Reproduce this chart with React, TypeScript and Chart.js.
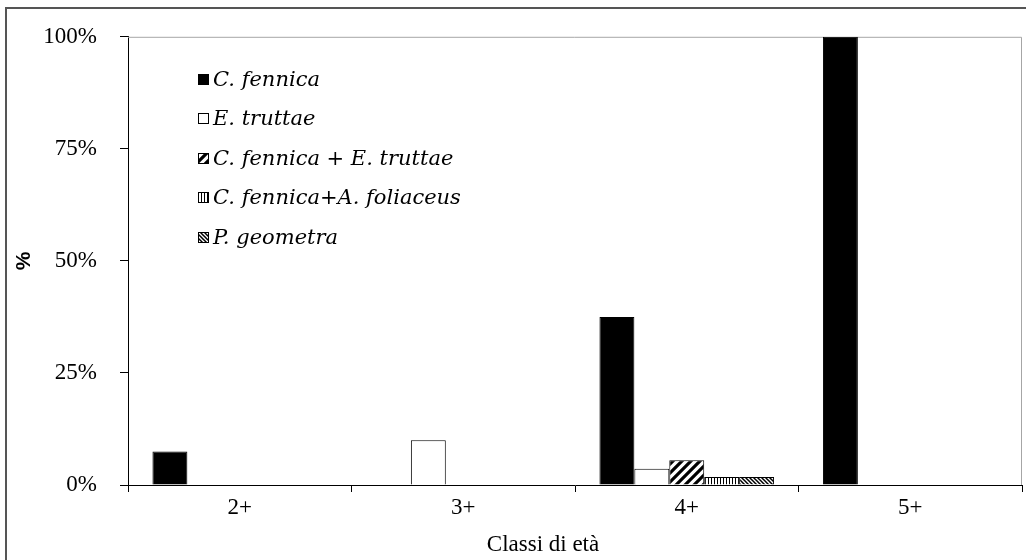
import React, { useEffect, useRef } from "react";
import { Chart, registerables } from "chart.js";

Chart.register(...registerables);

const categories = ["2+", "3+", "4+", "5+"];
const seriesNames = [
  "C. fennica",
  "E. truttae",
  "C. fennica + E. truttae",
  "C. fennica+A. foliaceus",
  "P. geometra",
];
const cFennica = [7.5, 0, 37.5, 100];
const eTruttae = [0, 10, 3.6, 0];
const cFennicaETruttae = [0, 0, 5.5, 0];
const cFennicaAFoliaceus = [0, 0, 1.8, 0];
const pGeometra = [0, 0, 1.8, 0];
const yTicks = [0, 25, 50, 75, 100];
const xTitle = "Classi di età";
const yTitle = "%";

const SERIF = "'Liberation Serif', 'Times New Roman', serif";
const LEGEND_FONT = "'DejaVu Serif', serif";

function makePattern(kind: string): CanvasPattern | string {
  const c = document.createElement("canvas");
  const ctx = c.getContext("2d")!;
  if (kind === "fwd") {
    const p = 9;
    c.width = p; c.height = p;
    ctx.fillStyle = "#fff"; ctx.fillRect(0, 0, p, p);
    ctx.strokeStyle = "#000"; ctx.lineWidth = 3.2;
    ctx.beginPath();
    ctx.moveTo(-1, p + 1); ctx.lineTo(p + 1, -1);
    ctx.moveTo(-2, 2); ctx.lineTo(2, -2);
    ctx.moveTo(p - 2, p + 2); ctx.lineTo(p + 2, p - 2);
    ctx.stroke();
  } else if (kind === "vert") {
    c.width = 3; c.height = 3;
    ctx.fillStyle = "#fff"; ctx.fillRect(0, 0, 3, 3);
    ctx.fillStyle = "#000"; ctx.fillRect(0, 0, 1, 3);
  } else if (kind === "back") {
    const p = 4;
    c.width = p; c.height = p;
    ctx.fillStyle = "#fff"; ctx.fillRect(0, 0, p, p);
    ctx.strokeStyle = "#000"; ctx.lineWidth = 1.5;
    ctx.beginPath();
    ctx.moveTo(-1, -1); ctx.lineTo(p + 1, p + 1);
    ctx.moveTo(p - 1, -1); ctx.lineTo(p + 1, 1);
    ctx.moveTo(-1, p - 1); ctx.lineTo(1, p + 1);
    ctx.stroke();
  }
  const pat = ctx.createPattern(c, "repeat");
  return pat || "#888";
}

const frameAndLegend = {
  id: "frameAndLegend",
  beforeDatasetsDraw(chart: any) {
    const { ctx, chartArea: a } = chart;
    ctx.save();
    ctx.strokeStyle = "#a6a6a6";
    ctx.lineWidth = 1;
    ctx.beginPath();
    ctx.moveTo(a.left, a.top + 0.5);
    ctx.lineTo(a.right - 0.5, a.top + 0.5);
    ctx.lineTo(a.right - 0.5, a.bottom);
    ctx.stroke();
    ctx.restore();
  },
  afterDraw(chart: any) {
    const { ctx, chartArea: a } = chart;
    ctx.save();
    // legend
    const x0 = a.left + 70;
    const y0 = a.top + 43;
    const step = 39.5;
    chart.data.datasets.forEach((ds: any, i: number) => {
      const cy = Math.round(y0 + i * step);
      ctx.fillStyle = ds.backgroundColor;
      ctx.fillRect(x0, cy - 6, 11, 11);
      ctx.strokeStyle = "#000";
      ctx.lineWidth = 1;
      ctx.strokeRect(x0 + 0.5, cy - 5.5, 10, 10);
      ctx.fillStyle = "#000";
      ctx.font = "italic 21px " + LEGEND_FONT;
      ctx.textBaseline = "middle";
      ctx.textAlign = "left";
      ctx.fillText(ds.label, x0 + 15, cy + 1);
    });
    // x axis title
    ctx.font = "23px " + SERIF;
    ctx.textAlign = "center";
    ctx.textBaseline = "middle";
    ctx.fillStyle = "#000";
    ctx.fillText(xTitle, (a.left + a.right) / 2 - 32, chart.height - 15);
    ctx.restore();
  },
};

export default function App() {
  const ref = useRef<HTMLCanvasElement>(null);
  useEffect(() => {
    if (!ref.current) return;
    const fills = [
      "#000000",
      "#ffffff",
      makePattern("fwd"),
      makePattern("vert"),
      makePattern("back"),
    ];
    const values = [cFennica, eTruttae, cFennicaETruttae, cFennicaAFoliaceus, pGeometra];
    const chart = new Chart(ref.current, {
      type: "bar",
      data: {
        labels: categories,
        datasets: values.map((v, i) => ({
          label: seriesNames[i],
          data: v,
          backgroundColor: fills[i] as any,
          borderColor: "#000",
          borderWidth: 1,
          borderSkipped: "bottom",
          categoryPercentage: 0.78125,
          barPercentage: 1,
        })),
      },
      options: {
        animation: false,
        responsive: false,
        maintainAspectRatio: false,
        layout: { padding: { top: 33, right: 4, left: 0, bottom: 0 } },
        plugins: {
          legend: { display: false },
          tooltip: { enabled: false },
        },
        scales: {
          x: {
            grid: {
              offset: true,
              drawOnChartArea: false,
              drawTicks: true,
              tickLength: 7,
              color: "#000",
            },
            border: { color: "#000", width: 1 },
            ticks: {
              font: { family: SERIF, size: 23 },
              color: "#000",
              padding: 2,
            },
            afterFit: (s: any) => {
              s.height = 75;
            },
          },
          y: {
            min: 0,
            max: 100,
            afterBuildTicks: (s: any) => {
              s.ticks = yTicks.map((v) => ({ value: v }));
            },
            grid: {
              drawOnChartArea: false,
              drawTicks: true,
              tickLength: 8,
              color: "#000",
            },
            border: { color: "#000", width: 1 },
            ticks: {
              font: { family: SERIF, size: 23 },
              color: "#000",
              padding: 23,
              callback: (v: any) => v + "%",
            },
            title: {
              display: true,
              text: yTitle,
              color: "#000",
              font: { family: "'Liberation Sans', Arial, sans-serif", size: 21, weight: "bold" },
              padding: { top: 12, bottom: 0 },
            },
            afterFit: (s: any) => {
              s.width = 128;
            },
          },
        },
      },
      plugins: [frameAndLegend],
    });
    return () => chart.destroy();
  }, []);

  return (
    <div
      style={{
        position: "fixed",
        left: 0,
        top: 0,
        width: 1026,
        height: 560,
        overflow: "hidden",
        background: "#fff",
      }}
    >
      <div
        style={{
          position: "absolute",
          left: 5,
          top: 7,
          width: 1100,
          height: 700,
          border: "2px solid #555",
          boxSizing: "border-box",
        }}
      />
      <canvas
        ref={ref}
        width={1026}
        height={560}
        style={{ position: "absolute", left: 0, top: 0, width: 1026, height: 560 }}
      />
    </div>
  );
}
